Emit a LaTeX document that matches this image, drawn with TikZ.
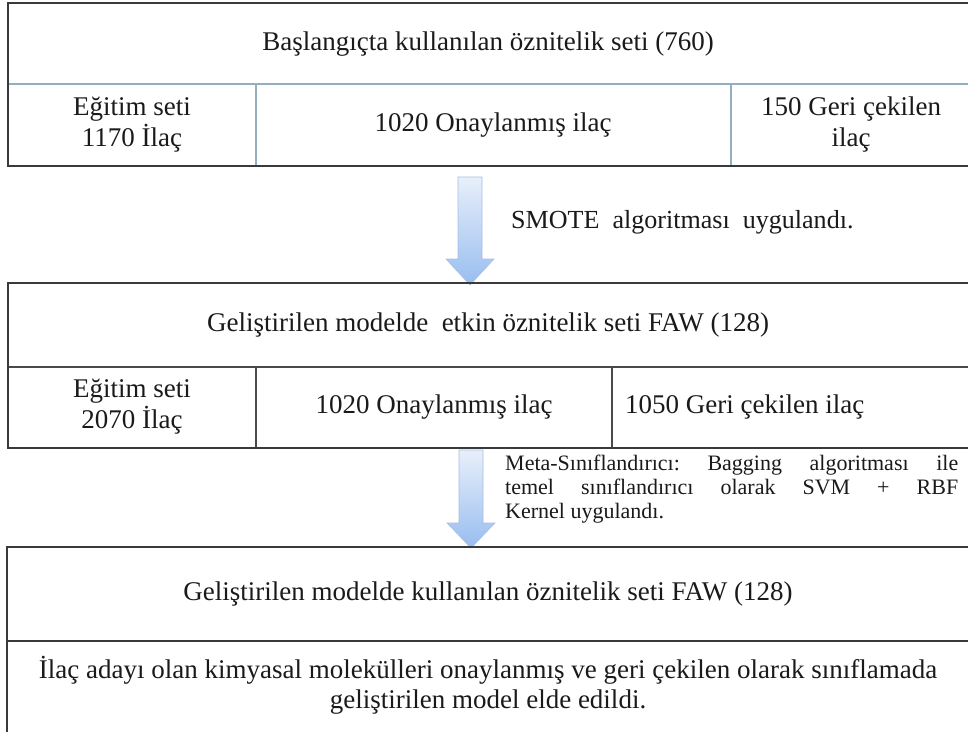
\documentclass[tikz,border=0pt]{standalone}
\usepackage{fontspec}
\setmainfont{Liberation Serif}
\newfontfamily\tnr{Liberation Serif}
\definecolor{outerline}{HTML}{3A3A3A}
\definecolor{innerblue}{HTML}{93AEBF}
\definecolor{innerdark}{HTML}{4A4A4A}
\definecolor{arrtop}{HTML}{E8EFFA}
\definecolor{arrbot}{HTML}{98BDF0}
\definecolor{arredge}{HTML}{A6BFE2}
\definecolor{txt}{HTML}{1A1A1A}
\newcommand{\bigtxt}[1]{\scalebox{1.35}{\begin{tabular}{@{}c@{}}#1\end{tabular}}}
\begin{document}
\begin{tikzpicture}[x=1pt,y=-1pt,
  tbl/.style={font=\tnr\fontsize{20}{22.6}\selectfont, align=center, inner sep=0pt, text=txt},
  note/.style={font=\tnr\fontsize{19.3}{22}\selectfont, inner sep=0pt, text=txt},
  meta/.style={font=\tnr\fontsize{22}{24}\selectfont\frenchspacing, inner sep=0pt, text=txt, text width=453pt, align=justify},
  outer/.style={draw=outerline, line width=1.3pt},
  innerb/.style={draw=innerblue, line width=1.3pt},
  innerd/.style={draw=innerdark, line width=1.1pt},
  blockarrow/.style={top color=arrtop, bottom color=arrbot, draw=arredge, line width=0.6pt}]
\useasboundingbox (0,0) rectangle (968,731);
\clip (0,0) rectangle (968,731);
\fill[white] (0,0) rectangle (968,731);

% ---------- Table 1 ----------
\draw[innerb] (8,84) -- (975,84);
\draw[innerb] (256,84) -- (256,166);
\draw[innerb] (731,84) -- (731,166);
\draw[outer] (975,3) -- (8,3) -- (8,166) -- (975,166);
\node[tbl] (h1) at (488,44) {\bigtxt{Başlangıçta kullanılan öznitelik seti (760)}};
\node[tbl] (e1) at (132,125) {\bigtxt{Eğitim seti\\1170 İlaç}};
\node[tbl] (o1) at (493,125) {\bigtxt{1020 Onaylanmış ilaç}};
\node[tbl] (g1) at (851,125) {\bigtxt{150 Geri çekilen\\ilaç}};

% ---------- Arrow 1 ----------
\shade[blockarrow] (458,177) -- (482,177) -- (482,259) -- (494,259) -- (470,285)
  -- (446,259) -- (458,259) -- cycle;
\node[note, anchor=west] (smote) at (511,223) {\bigtxt{SMOTE~~algoritması~~uygulandı.}};

% ---------- Table 2 ----------
\draw[innerd] (8,367) -- (975,367);
\draw[innerd] (256,367) -- (256,448);
\draw[innerd] (612,367) -- (612,448);
\draw[outer] (975,283) -- (8,283) -- (8,448) -- (975,448);
\node[tbl] (h2) at (488,325) {\bigtxt{Geliştirilen modelde~~etkin öznitelik seti FAW (128)}};
\node[tbl] (e2) at (132,407) {\bigtxt{Eğitim seti\\2070 İlaç}};
\node[tbl] (o2) at (434,407) {\bigtxt{1020 Onaylanmış ilaç}};
\node[tbl, anchor=west] (g2) at (625,407) {\bigtxt{1050 Geri çekilen ilaç}};

% ---------- Arrow 2 ----------
\shade[blockarrow] (459,450) -- (483,450) -- (483,523) -- (495,523) -- (471,548)
  -- (447,523) -- (459,523) -- cycle;
\node[meta, anchor=north west] (metatxt) at (505,455) {Meta-Sınıflandırıcı: Bagging algoritması ile\linebreak temel sınıflandırıcı olarak SVM + RBF\linebreak Kernel uygulandı.};

% ---------- Table 3 ----------
\draw[outer] (7,641) -- (975,641);
\draw[outer] (975,547) -- (7,547) -- (7,745);
\node[tbl] (h3) at (488,594) {\bigtxt{Geliştirilen modelde kullanılan öznitelik seti FAW (128)}};
\node[tbl] (f3) at (488,687) {\bigtxt{İlaç adayı olan kimyasal molekülleri onaylanmış ve geri çekilen olarak sınıflamada\\geliştirilen model elde edildi.}};
\end{tikzpicture}
\end{document}
